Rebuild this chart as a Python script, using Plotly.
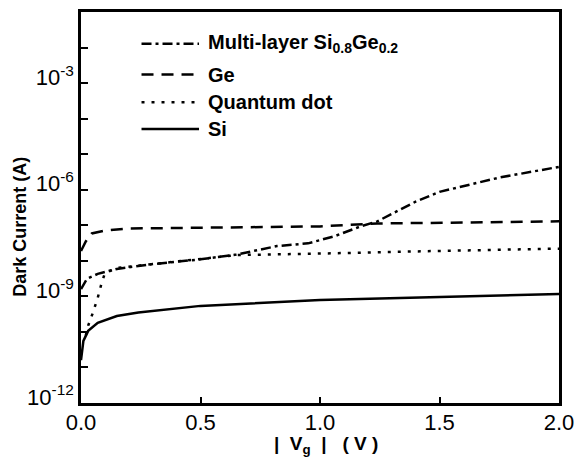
import plotly.graph_objects as go

# |Vg| (V) sample positions and dark current (A) for each device
si_v = [0.0, 0.01, 0.03, 0.07, 0.15, 0.24, 0.5, 0.75, 1.0, 1.25, 1.5, 1.75, 2.0]
si_i = [1.6e-11, 5.6e-11, 1.07e-10, 1.8e-10, 2.8e-10, 3.5e-10, 5.4e-10, 6.6e-10, 7.9e-10, 8.7e-10, 9.5e-10, 1.07e-9, 1.17e-9]

ge_v = [0.0, 0.02, 0.045, 0.1, 0.2, 0.5, 1.0, 1.24, 1.5, 2.0]
ge_i = [1.9e-8, 3.5e-8, 5.9e-8, 7.1e-8, 8.1e-8, 8.5e-8, 9.3e-8, 1.12e-7, 1.17e-7, 1.29e-7]

qd_v = [0.02, 0.03, 0.05, 0.07, 0.085, 0.1, 0.15, 0.3, 0.65, 1.0, 1.24, 1.5, 2.0]
qd_i = [7.9e-11, 1.5e-10, 3.5e-10, 9.1e-10, 2.2e-9, 4.5e-9, 6.3e-9, 8.1e-9, 1.45e-8, 1.6e-8, 1.7e-8, 1.9e-8, 2.2e-8]

ml_v = [0.0, 0.01, 0.025, 0.07, 0.15, 0.3, 0.5, 0.65, 0.82, 0.95, 1.06, 1.17, 1.24, 1.4, 1.5, 1.75, 2.0]
ml_i = [1.6e-9, 2.1e-9, 3.1e-9, 4.3e-9, 5.9e-9, 8.1e-9, 1.1e-8, 1.5e-8, 2.6e-8, 3.1e-8, 4.9e-8, 9.3e-8, 1.29e-7, 4.6e-7, 8.7e-7, 2.2e-6, 4.4e-6]

names = ["Multi-layer Si<sub>0.8</sub>Ge<sub>0.2</sub>", "Ge", "Quantum dot", "Si"]
dashes = ["10px,4px,3px,4px", "12px,8px", "3px,7px", "solid"]

x_ticks = [0.0, 0.5, 1.0, 1.5, 2.0]
y_ticks = [1e-12, 1e-11, 1e-10, 1e-9, 1e-8, 1e-7, 1e-6, 1e-5, 1e-4, 1e-3, 1e-2, 1e-1]
y_ticktext = ["10<sup>-12</sup>", "", "", "10<sup>-9</sup>", "", "", "10<sup>-6</sup>", "", "", "10<sup>-3</sup>", "", ""]

x_title = "|  V<sub>g</sub>  |   ( V )"
y_title = "Dark Current (A)"

FONT = "Liberation Sans, Arial, sans-serif"

fig = go.Figure()
for xv, yv, nm, dash in zip([ml_v, ge_v, qd_v, si_v], [ml_i, ge_i, qd_i, si_i], names, dashes):
    fig.add_trace(go.Scatter(x=xv, y=yv, mode="lines", name=nm, showlegend=False,
                             line=dict(color="black", width=2.5, dash=dash)))

# manual legend (sample lines + labels)
leg_rows = [0.9188, 0.8401, 0.7690, 0.7005]
for yy, nm, dash in zip(leg_rows, names, dashes):
    fig.add_shape(type="line", xref="paper", yref="paper", x0=0.1266, x1=0.2469, y0=yy, y1=yy,
                  line=dict(color="black", width=2.5, dash=dash))
    fig.add_annotation(xref="paper", yref="paper", x=0.2614, y=yy, xanchor="left", yanchor="middle",
                       text=nm, showarrow=False, font=dict(size=20, family=FONT, weight="bold", color="black"))

fig.add_annotation(xref="paper", yref="paper", x=0.512, y=-0.108, text=x_title, showarrow=False,
                   xanchor="center", yanchor="middle",
                   font=dict(size=19, family=FONT, weight="bold", color="black"))
fig.add_annotation(xref="paper", yref="paper", x=-0.1266, y=0.4518, text=y_title, showarrow=False,
                   textangle=-90, xanchor="center", yanchor="middle",
                   font=dict(size=18, family=FONT, weight="bold", color="black"))

fig.update_layout(
    width=583, height=460,
    margin=dict(l=81, r=20, t=9, b=57),
    paper_bgcolor="white", plot_bgcolor="white",
    font=dict(family=FONT, color="black"),
    showlegend=False,
)
fig.update_xaxes(
    range=[0, 2], tickvals=x_ticks, tickformat=".1f",
    showline=True, linewidth=2.5, linecolor="black", mirror=True,
    ticks="inside", ticklen=6, tickwidth=1.5, tickcolor="black",
    showgrid=False, zeroline=False,
    tickfont=dict(size=22, family=FONT), ticklabelstandoff=-2,
)
fig.update_yaxes(
    type="log", range=[-12, -1], tickvals=y_ticks, ticktext=y_ticktext,
    showline=True, linewidth=2.5, linecolor="black", mirror=True,
    ticks="inside", ticklen=7, tickwidth=1.5, tickcolor="black",
    showgrid=False, zeroline=False,
    tickfont=dict(size=22, family=FONT), ticklabelshift=-6,
)

fig.write_html("out.html")
